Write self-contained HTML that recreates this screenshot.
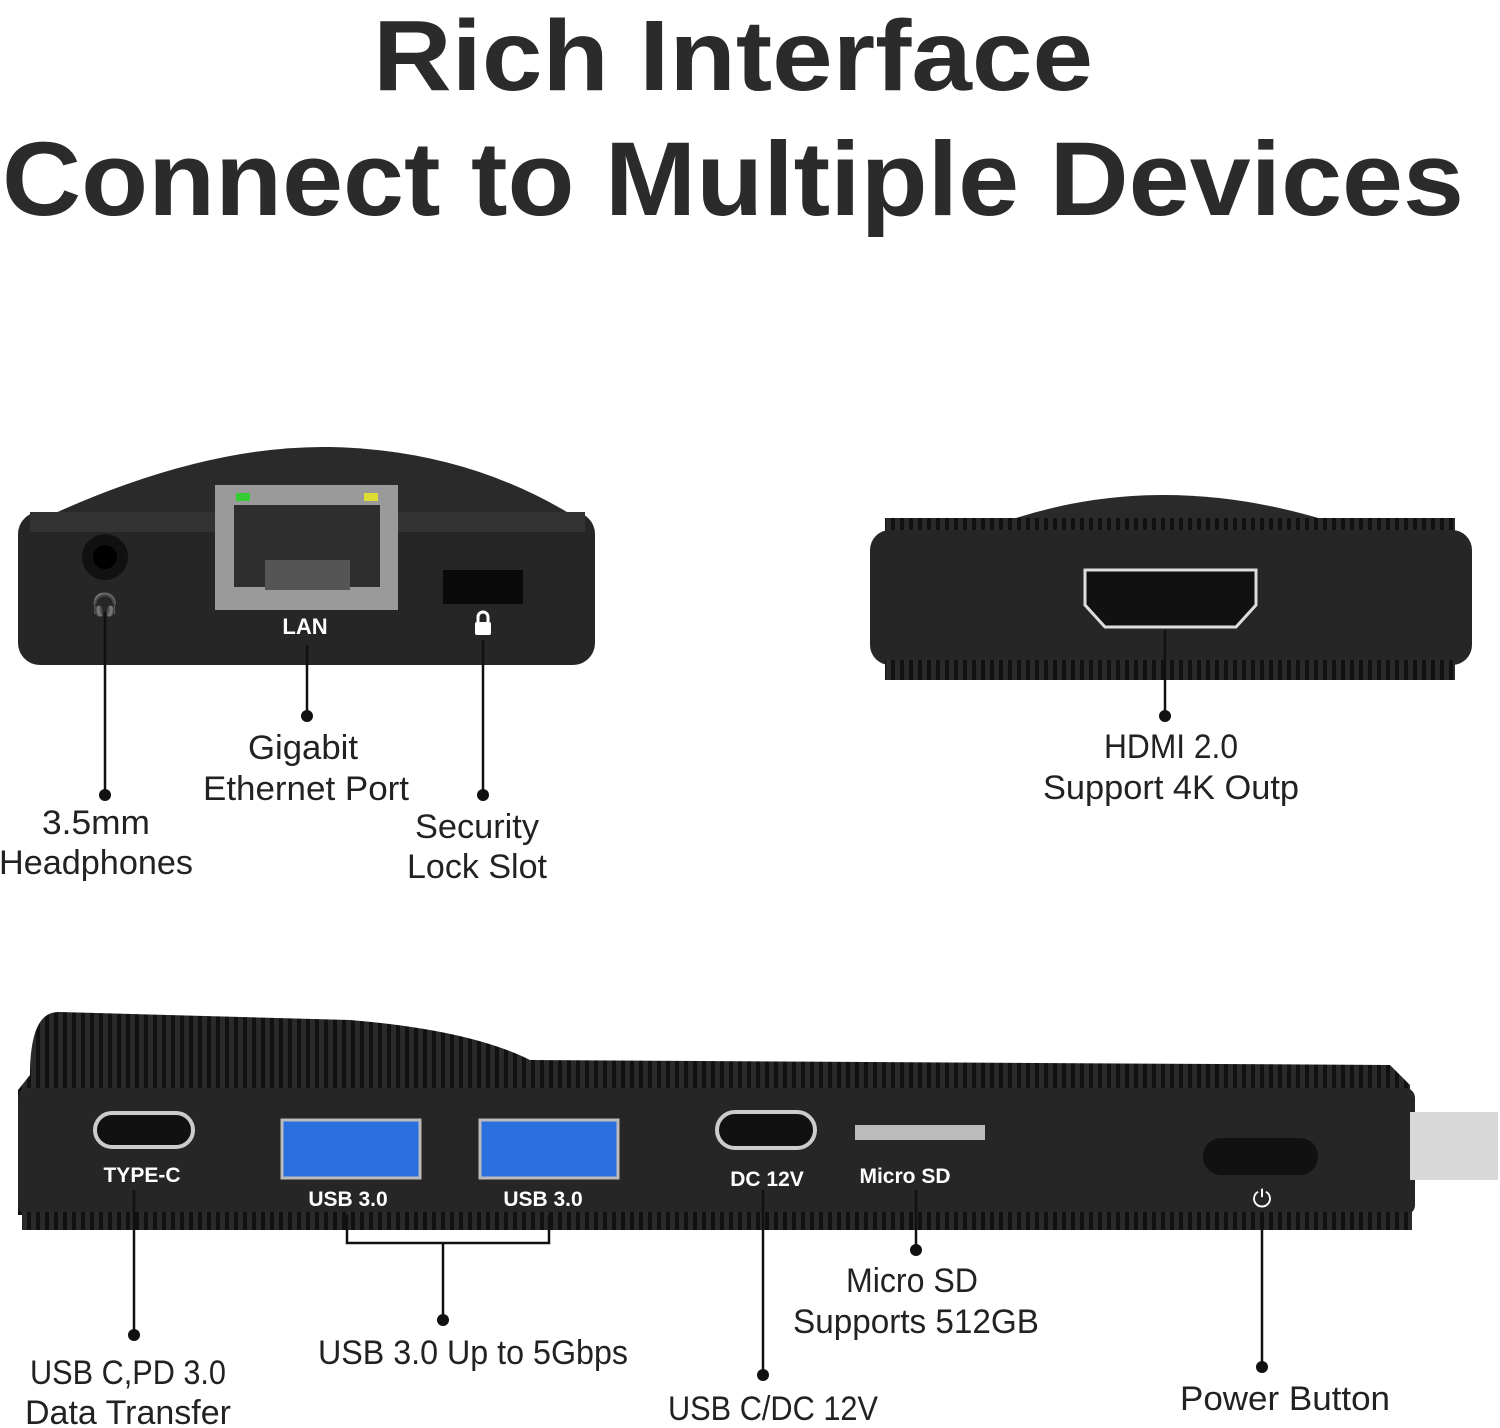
<!DOCTYPE html>
<html><head><meta charset="utf-8"><style>
html,body{margin:0;padding:0;background:#fff;}
svg{display:block;}
text{font-family:"Liberation Sans",sans-serif;}
</style></head><body>
<svg width="1500" height="1428" viewBox="0 0 1500 1428" xmlns="http://www.w3.org/2000/svg">
<defs>
<pattern id="ridge" width="9" height="20" patternUnits="userSpaceOnUse">
<rect width="9" height="20" fill="#2a2a2a"/><rect x="0" width="4" height="20" fill="#111"/>
</pattern>
</defs>
<!-- Title -->
<text x="733" y="90" font-size="100" font-weight="bold" fill="#2b2b2b" text-anchor="middle" textLength="720" lengthAdjust="spacingAndGlyphs">Rich Interface</text>
<text x="733" y="215" font-size="105" font-weight="bold" fill="#2b2b2b" text-anchor="middle" textLength="1462" lengthAdjust="spacingAndGlyphs">Connect to Multiple Devices</text>

<!-- Device 1 -->
<path d="M40 520 Q200 445 330 447 Q470 450 580 520 Z" fill="#2a2a2a"/>
<rect x="18" y="512" width="577" height="153" rx="22" fill="#262626"/>
<rect x="30" y="512" width="555" height="20" fill="#333"/>
<rect x="215" y="485" width="183" height="125" fill="#9a9a9a"/>
<rect x="234" y="505" width="146" height="82" fill="#2e2e2e"/>
<rect x="265" y="560" width="85" height="30" fill="#555"/>
<rect x="236" y="493" width="14" height="8" fill="#3c3"/><rect x="364" y="493" width="14" height="8" fill="#dd3"/>
<circle cx="105" cy="557" r="23" fill="#111"/><circle cx="105" cy="557" r="12" fill="#000"/>
<text x="105" y="612" font-size="22" fill="#fff" text-anchor="middle">&#127911;</text>
<text x="305" y="634" font-size="22" fill="#fff" text-anchor="middle" font-weight="bold">LAN</text>
<rect x="443" y="570" width="80" height="34" fill="#0a0a0a"/>
<rect x="475" y="622" width="16" height="13" rx="2" fill="#fff"/><path d="M478 622 v-5 a5 5 0 0 1 10 0 v5" stroke="#fff" stroke-width="3" fill="none"/>

<!-- Device 2 -->
<path d="M1010 520 Q1160 470 1325 520 Z" fill="#2a2a2a"/>
<rect x="885" y="518" width="570" height="18" fill="url(#ridge)"/>
<rect x="870" y="530" width="602" height="135" rx="20" fill="#262626"/>
<rect x="885" y="660" width="570" height="20" fill="url(#ridge)"/>
<path d="M1085 570 H1256 V605 L1236 627 H1105 L1085 605 Z" fill="#111" stroke="#ddd" stroke-width="3"/>

<!-- Device 3 -->
<path d="M30 1075 Q30 1010 60 1012 L350 1020 Q470 1030 530 1060 L1390 1065 L1410 1085 L1412 1215 L18 1215 L18 1090 Z" fill="url(#ridge)"/>
<rect x="18" y="1088" width="1397" height="127" rx="10" fill="#262626"/>
<rect x="22" y="1212" width="1390" height="18" fill="url(#ridge)"/>
<rect x="1410" y="1112" width="88" height="68" fill="#d8d8d8"/>
<rect x="95" y="1113" width="98" height="34" rx="17" fill="#111" stroke="#ccc" stroke-width="4"/>
<text x="142" y="1182" font-size="21" fill="#fff" text-anchor="middle" font-weight="bold">TYPE-C</text>
<rect x="282" y="1120" width="138" height="58" fill="#2a6fe0" stroke="#bbb" stroke-width="3"/>
<rect x="480" y="1120" width="138" height="58" fill="#2a6fe0" stroke="#bbb" stroke-width="3"/>
<text x="348" y="1206" font-size="21" fill="#fff" text-anchor="middle" font-weight="bold">USB 3.0</text>
<text x="543" y="1206" font-size="21" fill="#fff" text-anchor="middle" font-weight="bold">USB 3.0</text>
<rect x="717" y="1112" width="98" height="36" rx="18" fill="#111" stroke="#ccc" stroke-width="4"/>
<text x="767" y="1186" font-size="21" fill="#fff" text-anchor="middle" font-weight="bold">DC 12V</text>
<rect x="855" y="1125" width="130" height="15" fill="#bbb"/>
<text x="905" y="1183" font-size="21" fill="#fff" text-anchor="middle" font-weight="bold">Micro SD</text>
<rect x="1203" y="1138" width="115" height="37" rx="18" fill="#111"/>
<text x="1262" y="1207" font-size="24" fill="#fff" text-anchor="middle">&#x23FB;</text>

<!-- Leader lines -->
<g stroke="#111" stroke-width="2.5" fill="none">
<line x1="105" y1="612" x2="105" y2="795"/>
<line x1="307" y1="645" x2="307" y2="716"/>
<line x1="483" y1="640" x2="483" y2="795"/>
<line x1="1165" y1="630" x2="1165" y2="716"/>
<line x1="134" y1="1190" x2="134" y2="1335"/>
<polyline points="347,1215 347,1243 549,1243 549,1215"/>
<line x1="443" y1="1243" x2="443" y2="1320"/>
<line x1="763" y1="1190" x2="763" y2="1375"/>
<line x1="916" y1="1190" x2="916" y2="1250"/>
<line x1="1262" y1="1212" x2="1262" y2="1367"/>
</g>
<g fill="#111">
<circle cx="105" cy="795" r="6"/><circle cx="307" cy="716" r="6"/><circle cx="483" cy="795" r="6"/>
<circle cx="1165" cy="716" r="6"/><circle cx="134" cy="1335" r="6"/><circle cx="443" cy="1320" r="6"/>
<circle cx="763" cy="1375" r="6"/><circle cx="916" cy="1250" r="6"/><circle cx="1262" cy="1367" r="6"/>
</g>

<!-- Labels -->
<g font-size="34" fill="#222" text-anchor="middle">
<text x="96" y="834" textLength="108" lengthAdjust="spacingAndGlyphs">3.5mm</text>
<text x="96" y="874" textLength="194" lengthAdjust="spacingAndGlyphs">Headphones</text>
<text x="303" y="759" textLength="110" lengthAdjust="spacingAndGlyphs">Gigabit</text>
<text x="306" y="800" textLength="206" lengthAdjust="spacingAndGlyphs">Ethernet Port</text>
<text x="477" y="838" textLength="124" lengthAdjust="spacingAndGlyphs">Security</text>
<text x="477" y="878" textLength="140" lengthAdjust="spacingAndGlyphs">Lock Slot</text>
<text x="1171" y="758" textLength="134" lengthAdjust="spacingAndGlyphs">HDMI 2.0</text>
<text x="1171" y="799" textLength="256" lengthAdjust="spacingAndGlyphs">Support 4K Outp</text>
<text x="128" y="1384" textLength="196" lengthAdjust="spacingAndGlyphs">USB C,PD 3.0</text>
<text x="128" y="1424" textLength="206" lengthAdjust="spacingAndGlyphs">Data Transfer</text>
<text x="473" y="1364" textLength="310" lengthAdjust="spacingAndGlyphs">USB 3.0 Up to 5Gbps</text>
<text x="912" y="1292" textLength="132" lengthAdjust="spacingAndGlyphs">Micro SD</text>
<text x="916" y="1333" textLength="246" lengthAdjust="spacingAndGlyphs">Supports 512GB</text>
<text x="773" y="1420" textLength="210" lengthAdjust="spacingAndGlyphs">USB C/DC 12V</text>
<text x="1285" y="1410" textLength="210" lengthAdjust="spacingAndGlyphs">Power Button</text>
</g>
</svg>
</body></html>
